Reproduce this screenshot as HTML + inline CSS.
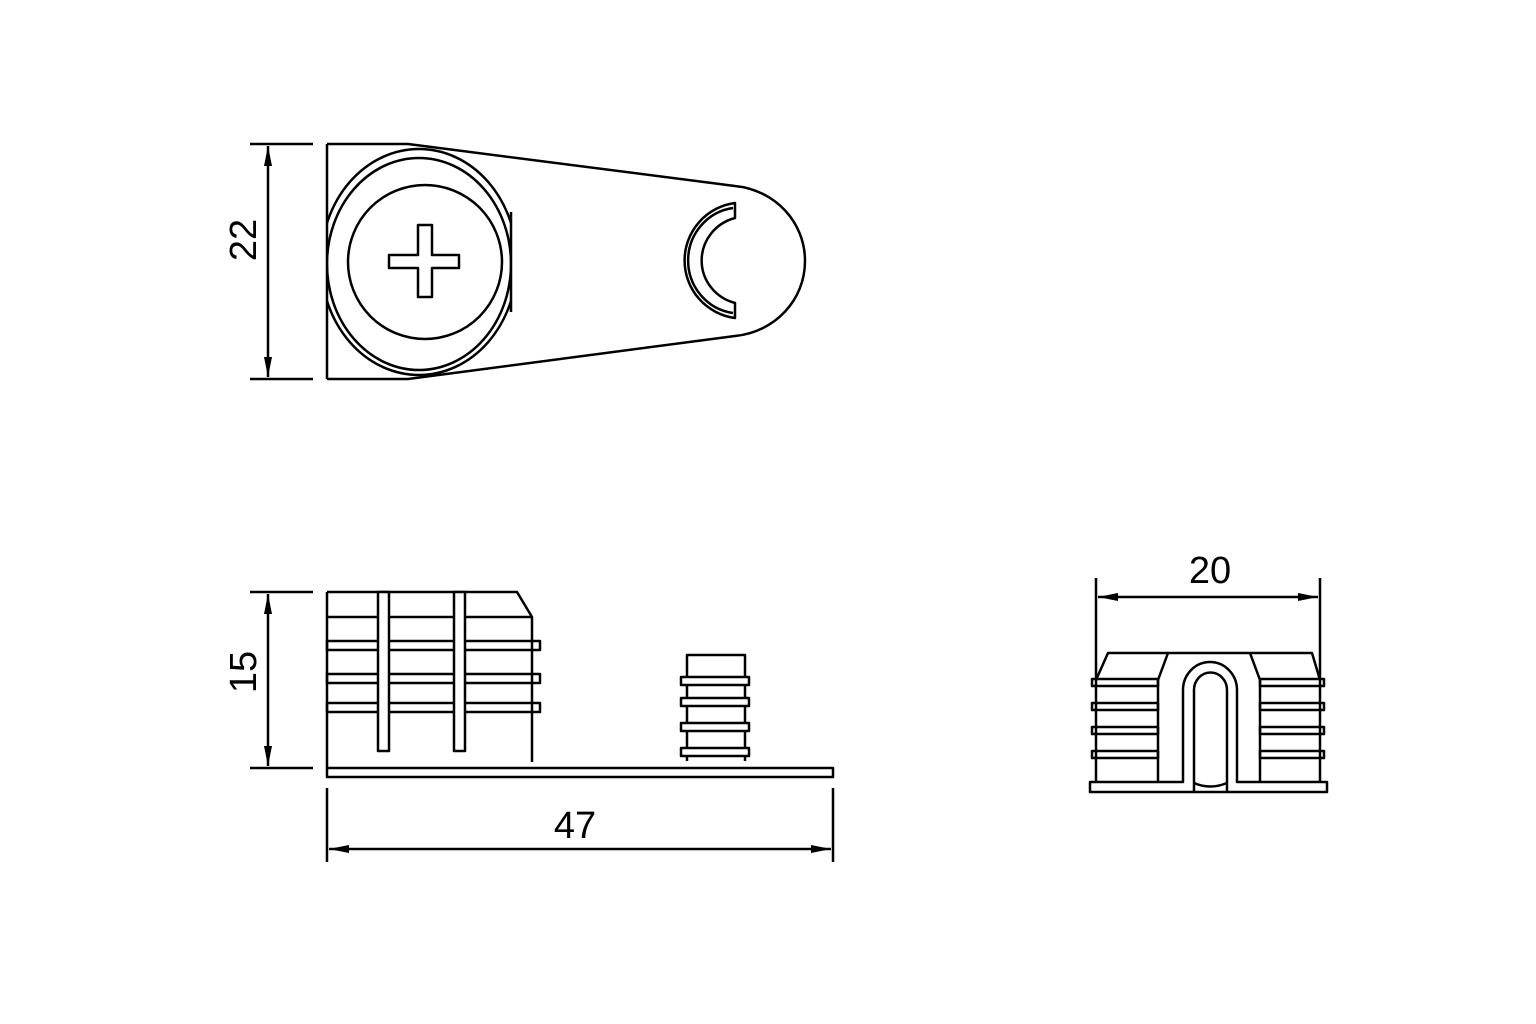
<!DOCTYPE html>
<html><head><meta charset="utf-8"><style>
html,body{margin:0;padding:0;background:#fff;}
svg{display:block;}
text{font-family:"Liberation Sans",sans-serif;font-size:38px;fill:#000;}
</style></head><body>
<svg width="1536" height="1024" viewBox="0 0 1536 1024" xmlns="http://www.w3.org/2000/svg">
<defs>
<marker id="a" viewBox="0 0 20 8" refX="20" refY="4" markerWidth="20" markerHeight="8" markerUnits="userSpaceOnUse" orient="auto"><path d="M0,0 L20,4 L0,8 z" fill="#000"/></marker>
<clipPath id="c1"><rect x="327" y="140" width="184" height="245"/></clipPath>
</defs>
<g fill="none" stroke="#000" stroke-width="2.5" stroke-linejoin="round">
<line x1="250" y1="144" x2="313" y2="144"/>
<line x1="250" y1="379" x2="313" y2="379"/>
<line x1="268" y1="262" x2="268" y2="146" marker-end="url(#a)"/>
<line x1="268" y1="262" x2="268" y2="377" marker-end="url(#a)"/>
<path d="M327,144 L327,379"/>
<path d="M327,144 L408,144 L735,186 C775,190 805,222 805,261 C805,300 775,332 735,336 L408,379 L327,379"/>
<g clip-path="url(#c1)">
<ellipse cx="419" cy="262" rx="98" ry="113"/>
<ellipse cx="419" cy="264" rx="92" ry="106"/>
</g>
<line x1="511" y1="212" x2="511" y2="312"/>
<circle cx="425" cy="262" r="77"/>
<path d="M389,255 H418 V225 H432 V255 H459 V268 H432 V297 H418 V268 H389 Z"/>
<path d="M735,203 A58,58 0 0 0 735,318 L735,303 A45,44 0 0 1 735,218 Z"/>
<path d="M733,208 A52,53 0 0 0 733,313"/>
<line x1="250" y1="592" x2="313" y2="592"/>
<line x1="250" y1="768" x2="313" y2="768"/>
<line x1="268" y1="680" x2="268" y2="594" marker-end="url(#a)"/>
<line x1="268" y1="680" x2="268" y2="766" marker-end="url(#a)"/>
<path d="M327,592 H517 L532,617 V762"/>
<line x1="327" y1="592" x2="327" y2="768"/>
<line x1="327" y1="617" x2="532" y2="617"/>
<rect x="327" y="641" width="213" height="9"/>
<rect x="327" y="674" width="213" height="9"/>
<rect x="327" y="703" width="213" height="9"/>
<rect x="378" y="592" width="11" height="159" fill="#fff"/>
<rect x="454" y="592" width="11" height="159" fill="#fff"/>
<rect x="327" y="768" width="506" height="9"/>
<path d="M687,761 V655 H745 V761"/>
<rect x="681" y="677" width="68" height="8" fill="#fff"/>
<rect x="681" y="698" width="68" height="8" fill="#fff"/>
<rect x="681" y="723" width="68" height="8" fill="#fff"/>
<rect x="681" y="748" width="68" height="8" fill="#fff"/>
<line x1="327" y1="788" x2="327" y2="862"/>
<line x1="833" y1="788" x2="833" y2="862"/>
<line x1="580" y1="849" x2="329" y2="849" marker-end="url(#a)"/>
<line x1="580" y1="849" x2="831" y2="849" marker-end="url(#a)"/>
<line x1="1096" y1="578" x2="1096" y2="680"/>
<line x1="1320" y1="578" x2="1320" y2="680"/>
<line x1="1208" y1="597" x2="1098" y2="597" marker-end="url(#a)"/>
<line x1="1208" y1="597" x2="1318" y2="597" marker-end="url(#a)"/>
<path d="M1096,680 L1108,653 H1312 L1320,680"/>
<path d="M1168,653 L1158,680 V782"/>
<path d="M1250,653 L1260,680 V782"/>
<line x1="1096" y1="680" x2="1096" y2="782"/>
<line x1="1320" y1="680" x2="1320" y2="782"/>
<rect x="1092" y="679" width="66" height="7"/>
<rect x="1092" y="703" width="66" height="7"/>
<rect x="1092" y="727" width="66" height="7"/>
<rect x="1092" y="751" width="66" height="7"/>
<rect x="1260" y="679" width="64" height="7"/>
<rect x="1260" y="703" width="64" height="7"/>
<rect x="1260" y="727" width="64" height="7"/>
<rect x="1260" y="751" width="64" height="7"/>
<path d="M1090,782 H1183 V690 A27,28 0 0 1 1237,690 V782 H1327 V792 H1090 Z"/>
<path d="M1194,792 V690 A16,17 0 0 1 1227,690 V792"/>
<path d="M1194,783 Q1210,790 1227,783"/>
</g>
<text x="575" y="838" text-anchor="middle">47</text>
<text x="1210" y="583" text-anchor="middle">20</text>
<text transform="translate(256,240) rotate(-90)" text-anchor="middle">22</text>
<text transform="translate(256,672) rotate(-90)" text-anchor="middle">15</text>
</svg>
</body></html>
